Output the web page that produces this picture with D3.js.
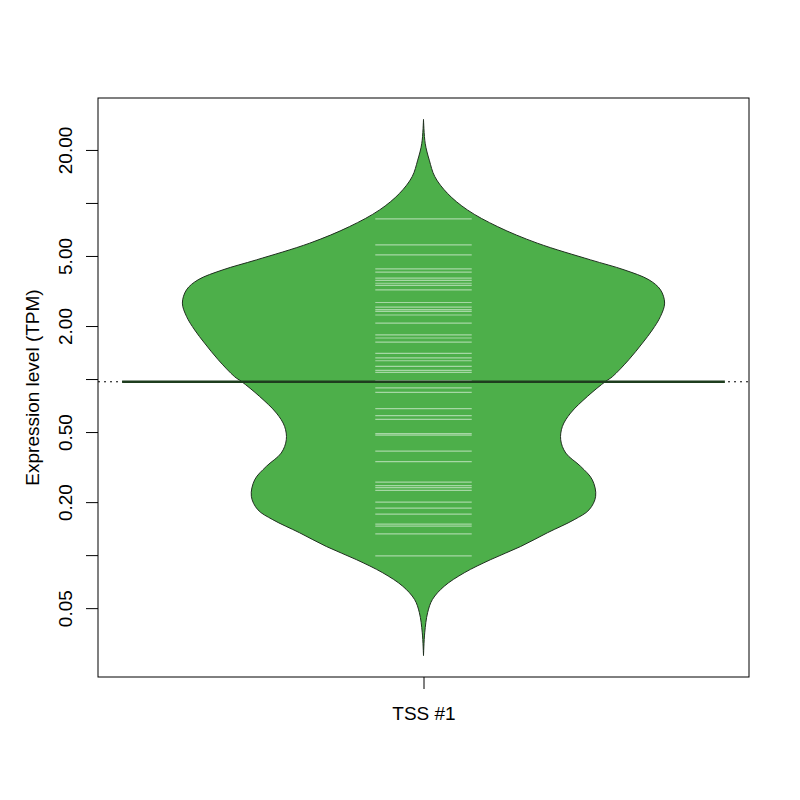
<!DOCTYPE html>
<html>
<head>
<meta charset="utf-8">
<script src="https://cdn.jsdelivr.net/npm/d3@7"></script>
<style>
  body { margin: 0; background: #fff; }
  text { font-family: "Liberation Sans", Arial, sans-serif; fill: #000; }
</style>
</head>
<body>
<div id="graph"></div>
<script>
//group name
var groups = ["TSS #1"]

//bean outline: expression value (TPM) and relative density width
var outlineTPM = [29.8,21.8,17.5,14.1,11.35,9.13,7.34,5.91,4.75,4.17,3.66,3.21,2.70,2.27,1.90,1.60,1.29,1.03,0.969,0.797,0.641,0.538,0.452,0.380,0.319,0.268,0.216,0.181,0.159,0.134,0.112,0.0944,0.0794,0.0666,0.0560,0.0471,0.0362,0.0269]
var outlineDensity = [0,0.007,0.024,0.047,0.099,0.182,0.307,0.472,0.693,0.832,0.935,0.983,1.0,0.983,0.949,0.908,0.852,0.783,0.755,0.680,0.610,0.576,0.569,0.590,0.652,0.700,0.714,0.687,0.625,0.514,0.403,0.279,0.169,0.086,0.037,0.017,0.005,0]

//single observations (bean lines)
var observations = [8.11,5.78,5.07,4.22,4.05,3.74,3.63,3.50,3.40,3.21,2.72,2.56,2.48,2.42,2.31,2.08,1.78,1.71,1.62,1.40,1.32,1.27,1.18,1.12,1.09,0.98,0.89,0.84,0.68,0.62,0.59,0.49,0.48,0.39,0.34,0.26,0.248,0.242,0.233,0.20,0.185,0.171,0.150,0.146,0.132,0.099]

//bean mean and overall mean
var beanMean = 0.965
var overallMean = 0.965

//axis ticks
var tickValues = [0.05,0.1,0.2,0.5,1,2,5,10,20]
var tickLabels = [0.05,0.2,0.5,2,5,20]

//plot region
var margin = {top: 98, right: 51, bottom: 123, left: 98},
  width = 800 - margin.left - margin.right,
  height = 800 - margin.top - margin.bottom;

var fontSize = 19

var svg = d3.select("#graph")
.append("svg")
  .attr("width", 800)
  .attr("height", 800)
.append("g")
  .attr("transform", "translate(" + margin.left + "," + margin.top + ")");

//y scale (log), range of bean plus 4%
var lo = Math.log10(d3.min(outlineTPM)), hi = Math.log10(d3.max(outlineTPM))
var pad = (hi - lo) * 0.04
var y = d3.scaleLog()
  .domain([Math.pow(10, lo - pad), Math.pow(10, hi + pad)])
  .range([height, 0])

//x scale, one group at 1
var x = d3.scaleLinear()
  .domain([0.46, 1.54])
  .range([0, width])

var maxHalf = 0.4
var bean = outlineTPM.map(function(v, i){ return {v: v, d: outlineDensity[i]} })

//bean shape
var area = d3.area()
  .y(function(d){ return y(d.v) })
  .x0(function(d){ return x(1 - maxHalf * d.d) })
  .x1(function(d){ return x(1 + maxHalf * d.d) })
  .curve(d3.curveCatmullRom.alpha(0.5))

svg.append("path")
  .datum(bean)
  .attr("d", area)
  .attr("fill", "#4daf4a")
  .attr("stroke", "#1f2f1f")
  .attr("stroke-width", 1)

//bean lines
svg.selectAll(".obs")
.data(observations)
.enter()
.append("line")
  .attr("class", "obs")
  .attr("x1", x(1 - 0.08))
  .attr("x2", x(1 + 0.08))
  .attr("y1", function(d){ return y(d) })
  .attr("y2", function(d){ return y(d) })
  .attr("stroke", "#ffffff")
  .attr("stroke-opacity", 0.5)
  .attr("stroke-width", 1.2)

//overall mean (dotted)
svg.append("line")
  .attr("x1", 0)
  .attr("x2", width)
  .attr("y1", y(overallMean))
  .attr("y2", y(overallMean))
  .attr("stroke", "#000")
  .attr("stroke-width", 1)
  .attr("stroke-dasharray", "2,4")

//bean mean line
svg.append("line")
  .attr("x1", x(0.5))
  .attr("x2", x(1.5))
  .attr("y1", y(beanMean))
  .attr("y2", y(beanMean))
  .attr("stroke", "#1e3d1e")
  .attr("stroke-width", 2.6)

//box
svg.append("rect")
  .attr("x", 0)
  .attr("y", 0)
  .attr("width", width)
  .attr("height", height)
  .attr("fill", "none")
  .attr("stroke", "#000")
  .attr("stroke-width", 1)

//y axis
var yAxis = svg.append("g")
  .call(d3.axisLeft(y)
    .tickValues(tickValues)
    .tickSize(12)
    .tickFormat(function(d){ return tickLabels.indexOf(d) >= 0 ? d3.format(".2f")(d) : "" }))
yAxis.select(".domain").remove()
yAxis.selectAll("line").attr("stroke", "#000")
yAxis.selectAll("text")
  .attr("font-size", fontSize)
  .attr("font-family", "Liberation Sans, Arial, sans-serif")
  .attr("text-anchor", "middle")
  .attr("x", null)
  .attr("dy", null)
  .attr("transform", "translate(-26,0) rotate(-90)")

//x axis
var xAxis = svg.append("g")
  .attr("transform", "translate(0," + height + ")")
  .call(d3.axisBottom(x)
    .tickValues([1])
    .tickSize(12)
    .tickFormat(function(d, i){ return groups[i] }))
xAxis.select(".domain").remove()
xAxis.selectAll("line").attr("stroke", "#000")
xAxis.selectAll("text")
  .attr("font-size", fontSize)
  .attr("font-family", "Liberation Sans, Arial, sans-serif")
  .attr("dy", null)
  .attr("y", 43)

//y title
svg.append("text")
  .attr("transform", "translate(" + (39 - margin.left) + "," + (height / 2) + ") rotate(-90)")
  .attr("text-anchor", "middle")
  .attr("font-size", fontSize)
  .text("Expression level (TPM)")
</script>
</body>
</html>
